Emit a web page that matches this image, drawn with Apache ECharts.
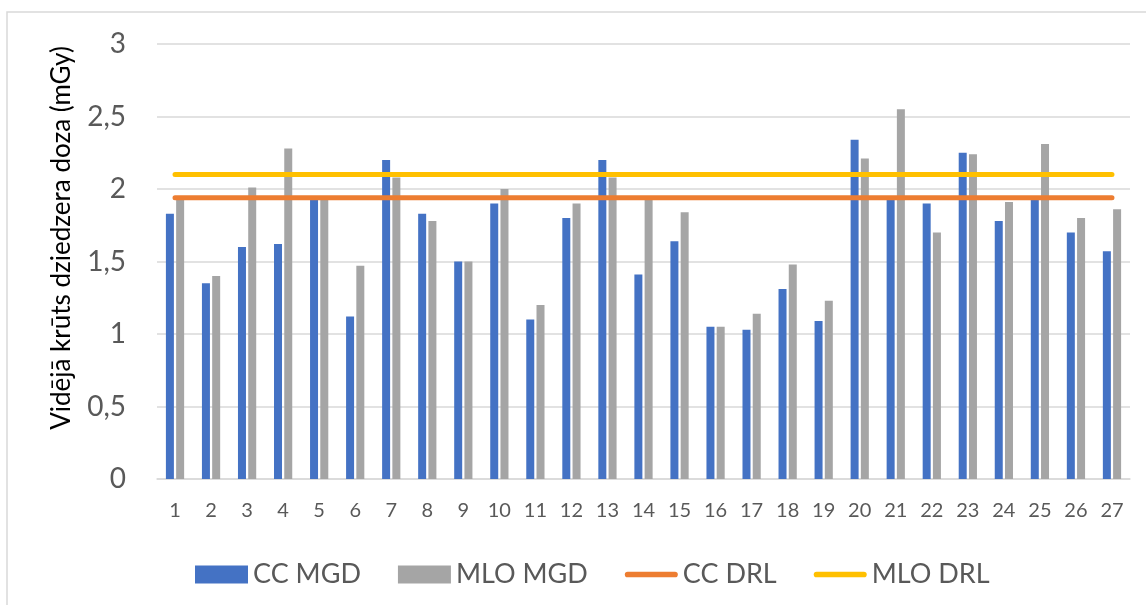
<!DOCTYPE html>
<html>
<head>
<meta charset="utf-8">
<script src="https://cdn.jsdelivr.net/npm/echarts@6/dist/echarts.min.js"></script>
<style>
  html, body { margin: 0; padding: 0; background: #fff; }
  #chart { width: 1146px; height: 605px; }
</style>
</head>
<body>
<div id="chart"></div>
<script>
const categories = ['1', '2', '3', '4', '5', '6', '7', '8', '9', '10', '11', '12', '13', '14',
    '15', '16', '17', '18', '19', '20', '21', '22', '23', '24', '25', '26', '27'];

const ccMgd = [1.83, 1.35, 1.6, 1.62, 1.93, 1.12, 2.2, 1.83, 1.5, 1.9, 1.1, 1.8, 2.2, 1.41,
    1.64, 1.05, 1.03, 1.31, 1.09, 2.34, 1.93, 1.9, 2.25, 1.78, 1.93, 1.7, 1.57];

const mloMgd = [1.95, 1.4, 2.01, 2.28, 1.93, 1.47, 2.08, 1.78, 1.5, 2.0, 1.2, 1.9, 2.08, 1.93,
    1.84, 1.05, 1.14, 1.48, 1.23, 2.21, 2.55, 1.7, 2.24, 1.91, 2.31, 1.8, 1.86];

const ccDrl = [1.94, 1.94, 1.94, 1.94, 1.94, 1.94, 1.94, 1.94, 1.94, 1.94, 1.94, 1.94, 1.94, 1.94,
    1.94, 1.94, 1.94, 1.94, 1.94, 1.94, 1.94, 1.94, 1.94, 1.94, 1.94, 1.94, 1.94];

const mloDrl = [2.1, 2.1, 2.1, 2.1, 2.1, 2.1, 2.1, 2.1, 2.1, 2.1, 2.1, 2.1, 2.1, 2.1,
    2.1, 2.1, 2.1, 2.1, 2.1, 2.1, 2.1, 2.1, 2.1, 2.1, 2.1, 2.1, 2.1];

const seriesNames = ['CC MGD', 'MLO MGD', 'CC DRL', 'MLO DRL'];
const yTitle = 'Vidējā krūts dziedzera doza (mGy)';

const font = 'Lato, "Open Sans", sans-serif';
// thick rounded bar used as legend icon for the DRL lines
const lineIcon = 'path://M3,0 L53,0 A3,3 0 0 1 53,6 L3,6 A3,3 0 0 1 3,0 Z';

const lineSeries = (name, data, color) => {
    return {
        name: name,
        type: 'line',
        data: data,
        symbol: 'none',
        lineStyle: { color: color, width: 5, cap: 'round' },
        itemStyle: { color: color },
        z: 3
    };
};

const barSeries = (name, data, color) => {
    return {
        name: name,
        type: 'bar',
        data: data,
        barWidth: 8,
        barGap: '28%',
        itemStyle: { color: color }
    };
};

const chartOpt = () => {
    return {
        animation: false,
        grid: { left: 157, right: 16, top: 44, bottom: 126 },
        legend: {
            data: [
                { name: seriesNames[0], icon: 'rect' },
                { name: seriesNames[1], icon: 'rect' },
                { name: seriesNames[2], icon: lineIcon },
                { name: seriesNames[3], icon: lineIcon }
            ],
            left: 190,
            top: 556,
            itemWidth: 53,
            itemHeight: 18,
            itemGap: 37,
            textStyle: { fontFamily: font, fontSize: 27, color: '#595959' }
        },
        xAxis: {
            type: 'category',
            data: categories,
            axisTick: { show: false },
            axisLine: { lineStyle: { color: '#d9d9d9', width: 1.5 } },
            axisLabel: { color: '#595959', fontFamily: font, fontSize: 20, margin: 22 }
        },
        yAxis: {
            type: 'value',
            min: 0,
            max: 3,
            interval: 0.5,
            axisLine: { show: false },
            axisTick: { show: false },
            splitLine: { lineStyle: { color: '#d9d9d9', width: 1.5 } },
            axisLabel: {
                color: '#595959',
                fontFamily: font,
                fontSize: 28,
                margin: 31,
                formatter: (v) => String(v).replace('.', ',')
            }
        },
        graphic: [
            {
                type: 'rect',
                shape: { x: 7, y: 12, width: 1300, height: 700 },
                style: { fill: 'none', stroke: '#d9d9d9', lineWidth: 1.5 },
                silent: true
            },
            {
                type: 'text',
                x: 62,
                y: 238,
                rotation: Math.PI / 2,
                style: {
                    text: yTitle,
                    fontFamily: font,
                    fontSize: 26,
                    fill: '#000',
                    align: 'center',
                    verticalAlign: 'middle'
                }
            }
        ],
        series: [
            barSeries(seriesNames[0], ccMgd, '#4472c4'),
            barSeries(seriesNames[1], mloMgd, '#a5a5a5'),
            lineSeries(seriesNames[2], ccDrl, '#ed7d31'),
            lineSeries(seriesNames[3], mloDrl, '#ffc000')
        ]
    };
};

const myChart = echarts.init(document.getElementById('chart'));
myChart.setOption(chartOpt());
</script>
</body>
</html>
